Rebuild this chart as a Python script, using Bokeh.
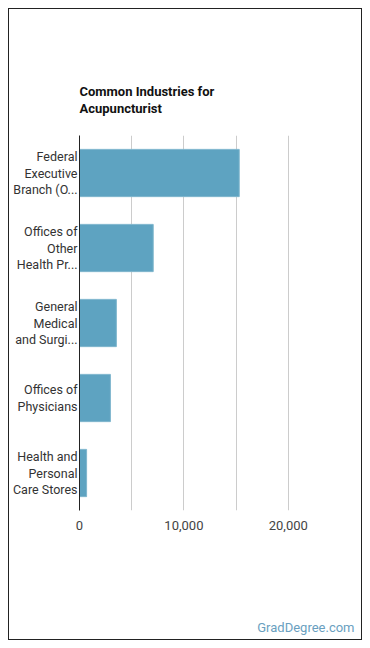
from bokeh.plotting import figure
from bokeh.models import Range1d, FixedTicker, Title
from bokeh.layouts import column
from bokeh.embed import file_html
from bokeh.resources import INLINE

industries = ["Federal\nExecutive\nBranch (O...", "Offices of\nOther\nHealth Pr...",
              "General\nMedical\nand Surgi...", "Offices of\nPhysicians",
              "Health and\nPersonal\nCare Stores"]
employment = [15300, 7060, 3530, 2960, 680]
x_ticks = [0, 5000, 10000, 15000, 20000]
x_tick_labels = {0: "0", 5000: "", 10000: "10,000", 15000: "", 20000: "20,000"}
watermark = "GradDegree.com"

FONT = "Roboto"
p = figure(width=352, height=600, output_backend="svg", toolbar_location=None,
           x_range=Range1d(0, 25000), y_range=Range1d(len(industries), 0),
           min_border_left=70, min_border_right=21, min_border_top=126, min_border_bottom=99)
p.outline_line_color = None

ys = [i + 0.5 for i in range(len(industries))]
p.hbar(y=ys, right=employment, left=0, height=0.63, fill_color="#5ea3c1",
       line_color="#7fb6cd", line_width=1)

p.xaxis.ticker = FixedTicker(ticks=x_ticks)
p.xaxis.major_label_overrides = x_tick_labels
p.xaxis.axis_line_color = None
p.xaxis.major_tick_line_color = None
p.xaxis.major_tick_out = 0
p.xaxis.minor_tick_line_color = None
p.xaxis.major_label_text_font = FONT
p.xaxis.major_label_text_font_size = "13px"
p.xaxis.major_label_text_color = "#444444"
p.xaxis.major_label_standoff = 10

p.yaxis.ticker = FixedTicker(ticks=ys)
p.yaxis.major_label_overrides = {y: lab for y, lab in zip(ys, industries)}
p.yaxis.axis_line_color = "#222222"
p.yaxis.major_tick_line_color = None
p.yaxis.major_tick_out = 0
p.yaxis.minor_tick_line_color = None
p.yaxis.major_label_text_font = FONT
p.yaxis.major_label_text_font_size = "12.5px"
p.yaxis.major_label_text_color = "#333333"
p.yaxis.major_label_text_line_height = 1.1
p.yaxis.major_label_standoff = 2

p.ygrid.grid_line_color = None
p.xgrid.ticker = FixedTicker(ticks=x_ticks)
p.xgrid.grid_line_color = "#cccccc"

p.add_layout(Title(text="Common Industries for\nAcupuncturist", text_font=FONT,
                   text_font_size="13px", text_font_style="bold", text_color="#111111",
                   text_line_height=1.15, align="left", offset=0, standoff=39), "above")

# footer with the watermark
f = figure(width=352, height=30, output_backend="svg", toolbar_location=None,
           x_range=Range1d(0, 1), y_range=Range1d(0, 1),
           min_border_left=0, min_border_right=0, min_border_top=0, min_border_bottom=0,
           x_axis_type=None, y_axis_type=None)
f.outline_line_color = None
f.grid.grid_line_color = None
f.add_layout(Title(text=watermark, text_font=FONT, text_font_size="13px",
                   text_font_style="normal", text_color="#6a9fbf",
                   align="right", offset=-14, standoff=10), "below")

layout = column(p, f, spacing=0,
                styles={"position": "absolute", "left": "8px", "top": "8px",
                        "border": "1px solid #222"})

open("out.html", "w").write(file_html(layout, INLINE))
